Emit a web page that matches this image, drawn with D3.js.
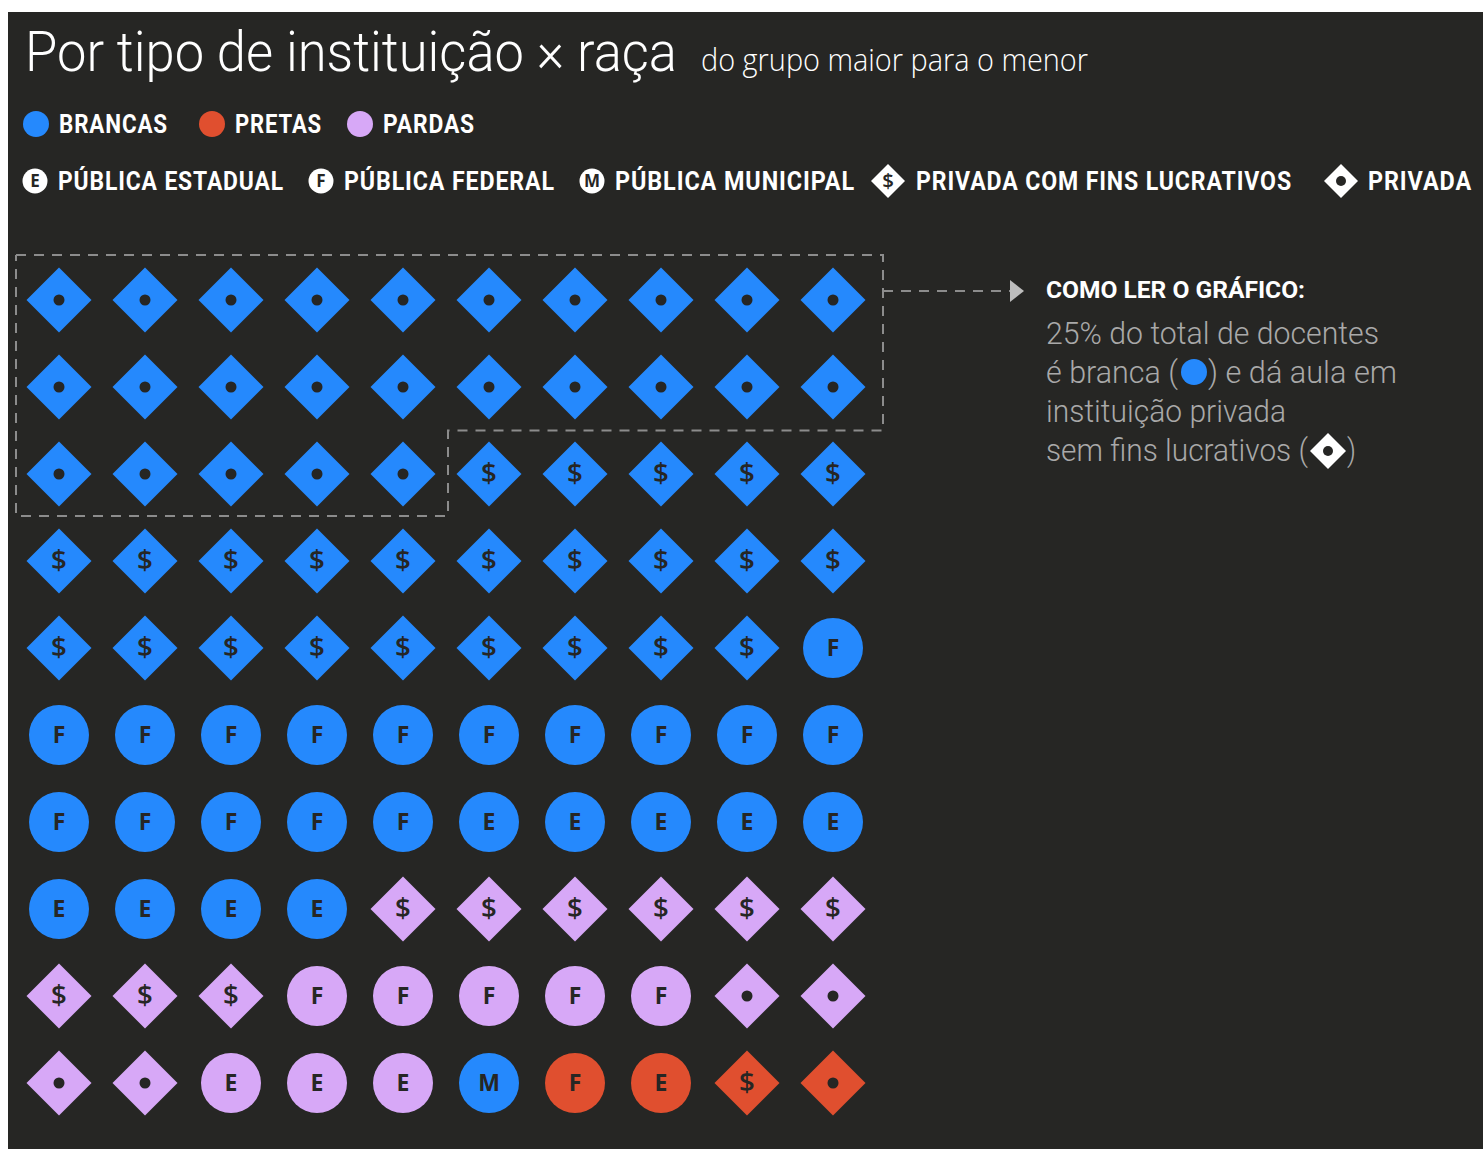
<!DOCTYPE html>
<html>
<head>
<meta charset="utf-8">
<script src="https://cdn.jsdelivr.net/npm/d3@7"></script>
<style>
    body { margin: 0; background: #ffffff; }
    svg { display: block; }
</style>
</head>
<body>
<svg id="chart" width="1483" height="1149"></svg>
<script>
// Groups, from the largest to the smallest (1 cell = 1% of docentes)
const GROUP_RACES = ["branca", "branca", "branca", "branca", "parda", "parda", "parda", "parda", "branca", "preta", "preta", "preta", "preta"];
const GROUP_TYPES = ["privada", "lucrativa", "federal", "estadual", "lucrativa", "federal", "privada", "estadual", "municipal", "federal", "estadual", "lucrativa", "privada"];
const GROUP_SHARES = [25, 24, 16, 9, 9, 5, 4, 3, 1, 1, 1, 1, 1];

// Legend entries
const RACES = ["branca", "preta", "parda"];
const RACE_LABELS = ["BRANCAS", "PRETAS", "PARDAS"];
const TYPES = ["estadual", "federal", "municipal", "lucrativa", "privada"];
const TYPE_LABELS = ["PÚBLICA ESTADUAL", "PÚBLICA FEDERAL", "PÚBLICA MUNICIPAL", "PRIVADA COM FINS LUCRATIVOS", "PRIVADA"];

// Texts
const TITLE = "Por tipo de instituição × raça";
const SUBTITLE = "do grupo maior para o menor";
const NOTE_TITLE = "COMO LER O GRÁFICO:";

const BG = "#262624";
const COLORS = new Map([["branca", "#2589fd"], ["preta", "#e04f2f"], ["parda", "#d7a8f7"]]);
const GLYPHS = new Map([["estadual", "E"], ["federal", "F"], ["municipal", "M"], ["lucrativa", "$"], ["privada", ""]]);
const isDiamond = (type) => type === "lucrativa" || type === "privada";

const svg = d3.select("#chart");

// Dark panel
svg.append("rect")
    .attr("x", 8)
    .attr("y", 12)
    .attr("width", 1475)
    .attr("height", 1137)
    .attr("fill", BG);

// Title
svg.append("text")
    .attr("x", 25)
    .attr("y", 71)
    .attr("textLength", 652)
    .attr("lengthAdjust", "spacingAndGlyphs")
    .style("font-family", "Roboto, sans-serif")
    .style("font-weight", 300)
    .style("font-size", "55px")
    .attr("fill", "#ffffff")
    .text(TITLE);

svg.append("text")
    .attr("x", 701)
    .attr("y", 71)
    .attr("textLength", 387)
    .attr("lengthAdjust", "spacingAndGlyphs")
    .style("font-family", "'Open Sans', sans-serif")
    .style("font-weight", 300)
    .style("font-size", "31px")
    .attr("fill", "#ffffff")
    .text(SUBTITLE);

const legendText = (sel, x, y, len, txt) => {
    sel.append("text")
        .attr("x", x)
        .attr("y", y)
        .attr("textLength", len)
        .attr("lengthAdjust", "spacingAndGlyphs")
        .style("font-family", "Roboto, sans-serif")
        .style("font-weight", 700)
        .style("font-size", "26px")
        .style("letter-spacing", "1px")
        .attr("fill", "#ffffff")
        .text(txt);
};

// Race legend
const raceX = [36, 212, 360];
const raceLen = [109, 87, 92];
RACES.forEach((race, i) => {
    svg.append("circle")
        .attr("cx", raceX[i])
        .attr("cy", 124)
        .attr("r", 13)
        .attr("fill", COLORS.get(race));
    legendText(svg, raceX[i] + 23, 133, raceLen[i], RACE_LABELS[i]);
});

// Shape builders
const diamondPath = (half) => d3.symbol().type(d3.symbolSquare).size(2 * half * half)();

const drawMarker = (g, type, fill, half, r, fontSize, dotR) => {
    if (isDiamond(type)) {
        g.append("path")
            .attr("d", diamondPath(half))
            .attr("transform", "rotate(45)")
            .attr("fill", fill);
    } else {
        g.append("circle")
            .attr("r", r)
            .attr("fill", fill);
    }
    if (type === "privada") {
        g.append("circle")
            .attr("r", dotR)
            .attr("fill", BG);
    } else {
        const glyph = GLYPHS.get(type);
        const size = glyph === "$" ? fontSize * 1.2 : fontSize;
        g.append("text")
            .attr("text-anchor", "middle")
            .attr("dy", glyph === "$" ? "0.33em" : "0.36em")
            .style("font-family", "'Open Sans', sans-serif")
            .style("font-weight", glyph === "$" ? 600 : 700)
            .style("font-size", size + "px")
            .attr("fill", BG)
            .text(glyph);
    }
};

// Institution type legend
const typeX = [35, 321, 592, 888, 1341];
const typeTextX = [58, 344, 615, 916, 1368];
const typeLen = [226, 211, 240, 376, 104];
TYPES.forEach((type, i) => {
    const g = svg.append("g")
        .attr("transform", "translate(" + typeX[i] + " 181)");
    drawMarker(g, type, "#ffffff", 17, 12.5, 17, 5);
    legendText(svg, typeTextX[i], 190, typeLen[i], TYPE_LABELS[i]);
});

// Cells
const cells = [];
GROUP_SHARES.forEach((share, gi) => {
    for (let k = 0; k < share; k++) {
        cells.push({"race": GROUP_RACES[gi], "type": GROUP_TYPES[gi]});
    }
});

const colScale = d3.scaleBand()
    .domain(d3.range(10))
    .range([16, 876]);

const rowScale = d3.scaleBand()
    .domain(d3.range(10))
    .range([256.5, 1126.5]);

svg.selectAll(".cell")
    .data(cells)
    .enter()
    .append("g")
    .classed("cell", true)
    .attr("transform", (d, i) => {
        const x = colScale(i % 10) + colScale.step() / 2;
        const y = rowScale(Math.floor(i / 10)) + rowScale.step() / 2;
        return "translate(" + x + " " + y + ")";
    })
    .each(function (d) {
        drawMarker(d3.select(this), d.type, COLORS.get(d.race), 32.5, 30, 23, 5.5);
    });

// Dashed outline around the first group
const firstGroup = GROUP_SHARES[0];
const fullRows = Math.floor(firstGroup / 10);
const rest = firstGroup % 10;
const boxLeft = colScale(0);
const boxRight = colScale.range()[1] + 7;
const boxTop = rowScale(0) - 1.5;
const boxMid = rowScale(fullRows);
const boxBottom = rowScale(fullRows) + rowScale.step() - 1.5;
const boxSplit = colScale(rest) + 2;

const outline = d3.line()([
    [boxLeft, boxTop], [boxRight, boxTop], [boxRight, boxMid], [boxSplit, boxMid],
    [boxSplit, boxBottom], [boxLeft, boxBottom], [boxLeft, boxTop]
]);

svg.append("path")
    .attr("d", outline)
    .attr("fill", "none")
    .attr("stroke", "#8c8c8c")
    .attr("stroke-width", 2)
    .attr("stroke-dasharray", "10 8");

// Arrow to the note
svg.append("line")
    .attr("x1", boxRight)
    .attr("x2", 1010)
    .attr("y1", 291)
    .attr("y2", 291)
    .attr("stroke", "#8c8c8c")
    .attr("stroke-width", 2)
    .attr("stroke-dasharray", "10 8");

svg.append("path")
    .attr("d", d3.line()([[1010, 280], [1024, 291], [1010, 302]]))
    .attr("fill", "#bdbdbd");

// Note
svg.append("text")
    .attr("x", 1046)
    .attr("y", 298)
    .attr("textLength", 259)
    .attr("lengthAdjust", "spacingAndGlyphs")
    .style("font-family", "Roboto, sans-serif")
    .style("font-weight", 700)
    .style("font-size", "24px")
    .attr("fill", "#ffffff")
    .text(NOTE_TITLE);

const noteText = (x, y, len, txt) => {
    svg.append("text")
        .attr("x", x)
        .attr("y", y)
        .attr("textLength", len)
        .attr("lengthAdjust", "spacingAndGlyphs")
        .style("font-family", "Roboto, sans-serif")
        .style("font-weight", 300)
        .style("font-size", "31px")
        .attr("fill", "#a9a9a9")
        .text(txt);
};

noteText(1046, 344, 333, "25% do total de docentes");
noteText(1046, 383, 132, "é branca (");
svg.append("circle")
    .attr("cx", 1194)
    .attr("cy", 372)
    .attr("r", 13)
    .attr("fill", COLORS.get("branca"));
noteText(1208, 383, 189, ") e dá aula em");
noteText(1046, 422, 240, "instituição privada");
noteText(1046, 461, 262, "sem fins lucrativos (");
const noteDiamond = svg.append("g")
    .attr("transform", "translate(1328 451)");
drawMarker(noteDiamond, "privada", "#ffffff", 18, 12, 15, 5);
noteText(1347, 461, 9, ")");
</script>
</body>
</html>
